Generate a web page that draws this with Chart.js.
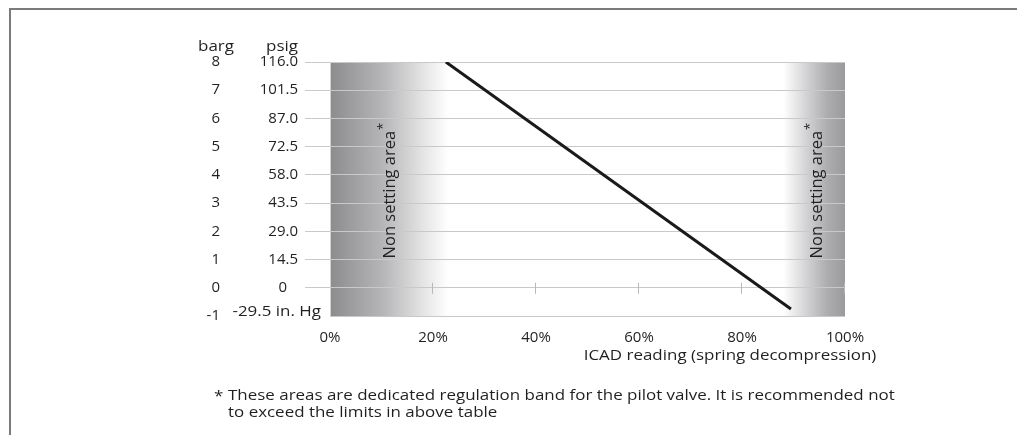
<!DOCTYPE html>
<html>
<head>
<meta charset="utf-8">
<title>ICAD pressure setting</title>
<script src="https://cdn.jsdelivr.net/npm/chart.js@4/dist/chart.umd.min.js"></script>
<style>
  html, body { margin: 0; padding: 0; background: #fff; }
  canvas { display: block; }
</style>
</head>
<body>
<canvas id="chart" width="1017" height="435"></canvas>
<script>
// data
const bargTicks = [-1, 0, 1, 2, 3, 4, 5, 6, 7, 8];
const psigTicks = ['-29.5 in. Hg', '0', '14.5', '29.0', '43.5', '58.0', '72.5', '87.0', '101.5', '116.0'];
const readingTicks = [0, 20, 40, 60, 80, 100];

// setting line (ICAD reading % -> barg)
const lineReading = [22.5, 89.5];
const lineBarg = [8, -0.75];

// non setting areas (ICAD reading %)
const leftZone = [0, 23];
const rightZone = [88, 100];

const FONT = '"Open Sans", "Noto Sans", sans-serif';
const TEXT = '#231f20';
const SX = 1.21; // the original type is set wide

const points = lineReading.map((x, i) => ({ x: x, y: lineBarg[i] }));

function wideText(ctx, text, x, y, align) {
    ctx.save();
    ctx.translate(x, y);
    ctx.scale(SX, 1);
    ctx.textAlign = align;
    ctx.fillText(text, 0, 0);
    ctx.restore();
}

// labels that sit off the normal right edge: vacuum row and the bare zero
const isSpecial = v => v === -1 || v === 0;

const bandsPlugin = {
    id: 'bands',
    beforeDraw(chart) {
        const { ctx, chartArea, scales } = chart;
        ctx.save();
        ctx.fillStyle = '#fff';
        ctx.fillRect(0, 0, chart.width, chart.height);

        const top = chartArea.top, h = chartArea.bottom - chartArea.top;

        let x0 = scales.x.getPixelForValue(leftZone[0]);
        let x1 = scales.x.getPixelForValue(leftZone[1]);
        let g = ctx.createLinearGradient(x0, 0, x1, 0);
        g.addColorStop(0, '#8c8c8e');
        g.addColorStop(0.45, '#b6b6b8');
        g.addColorStop(0.8, '#e6e6e7');
        g.addColorStop(1, '#ffffff');
        ctx.fillStyle = g;
        ctx.fillRect(x0, top, x1 - x0, h);

        x0 = scales.x.getPixelForValue(rightZone[0]);
        x1 = scales.x.getPixelForValue(rightZone[1]);
        g = ctx.createLinearGradient(x0, 0, x1, 0);
        g.addColorStop(0, '#ffffff');
        g.addColorStop(0.4, '#d0d0d2');
        g.addColorStop(0.7, '#aeaeb0');
        g.addColorStop(1, '#9a9a9c');
        ctx.fillStyle = g;
        ctx.fillRect(x0, top, x1 - x0, h);
        ctx.restore();
    },
    beforeDatasetsDraw(chart) {
        const { ctx, scales } = chart;
        ctx.save();
        // small ticks on the zero line
        const yz = scales.y.getPixelForValue(0);
        ctx.strokeStyle = '#b8b8b8';
        ctx.lineWidth = 1;
        readingTicks.slice(1).forEach(v => {
            const x = Math.round(scales.x.getPixelForValue(v)) - 0.5;
            ctx.beginPath();
            ctx.moveTo(x, yz - 5);
            ctx.lineTo(x, yz + 6);
            ctx.stroke();
        });

        // vertical zone labels
        const yMid = scales.y.getPixelForValue(3.3);
        [12.6, 95.6].forEach(v => {
            const x = scales.x.getPixelForValue(v);
            ctx.save();
            ctx.translate(x, yMid);
            ctx.rotate(-Math.PI / 2);
            ctx.fillStyle = TEXT;
            ctx.font = '16.5px ' + FONT;
            const main = 'Non setting area';
            const w = ctx.measureText(main).width;
            ctx.textBaseline = 'alphabetic';
            ctx.textAlign = 'left';
            ctx.fillText(main, -w / 2, 0);
            ctx.font = '13px ' + FONT;
            ctx.fillText('*', w / 2 + 1, -8);
            ctx.restore();
        });
        ctx.restore();
    },
    afterDraw(chart) {
        const { ctx, scales } = chart;
        ctx.save();
        // frame
        ctx.strokeStyle = '#7b7b7b';
        ctx.lineWidth = 2;
        ctx.beginPath();
        ctx.moveTo(10, chart.height);
        ctx.lineTo(10, 9);
        ctx.lineTo(chart.width, 9);
        ctx.stroke();

        ctx.fillStyle = TEXT;
        ctx.textBaseline = 'middle';
        ctx.textAlign = 'right';
        // barg column
        ctx.font = '15px ' + FONT;
        bargTicks.forEach(v => {
            ctx.fillText(String(v), 220, scales.y.getPixelForValue(v));
        });
        // psig labels that are not right aligned with the rest
        ctx.fillText(psigTicks[bargTicks.indexOf(0)], 287, scales.y.getPixelForValue(0));
        ctx.font = '14px ' + FONT;
        wideText(ctx, psigTicks[bargTicks.indexOf(-1)], 321, scales.y.getPixelForValue(-1) - 4, 'right');

        ctx.textBaseline = 'alphabetic';
        // axis headers
        wideText(ctx, 'barg', 216, 51, 'center');
        wideText(ctx, 'psig', 298, 51, 'right');
        // x axis title
        wideText(ctx, 'ICAD reading (spring decompression)', 730, 360, 'center');
        // footnote
        wideText(ctx, '*', 214, 401, 'left');
        wideText(ctx, 'These areas are dedicated regulation band for the pilot valve. It is recommended not', 228, 400, 'left');
        wideText(ctx, 'to exceed the limits in above table', 228, 417, 'left');
        ctx.restore();
    }
};

new Chart(document.getElementById('chart'), {
    type: 'scatter',
    data: {
        datasets: [{
            data: points,
            showLine: true,
            borderColor: '#1a1a1a',
            borderWidth: 3,
            pointRadius: 0
        }]
    },
    options: {
        responsive: false,
        animation: false,
        devicePixelRatio: 1,
        layout: { padding: { top: 62, right: 172, left: 0, bottom: 0 } },
        plugins: {
            legend: { display: false },
            tooltip: { enabled: false }
        },
        scales: {
            x: {
                type: 'linear',
                min: readingTicks[0],
                max: readingTicks[readingTicks.length - 1],
                afterBuildTicks: s => { s.ticks = readingTicks.map(v => ({ value: v })); },
                ticks: {
                    callback: v => v + '%',
                    padding: 5,
                    maxRotation: 0,
                    color: TEXT,
                    font: { family: FONT, size: 15 }
                },
                grid: { display: false },
                border: { display: false },
                afterFit: s => { s.height = 119; }
            },
            y: {
                position: 'left',
                min: bargTicks[0],
                max: bargTicks[bargTicks.length - 1],
                afterBuildTicks: s => { s.ticks = bargTicks.map(v => ({ value: v })); },
                ticks: {
                    callback: v => isSpecial(v) ? '' : psigTicks[bargTicks.indexOf(v)],
                    padding: 7,
                    color: TEXT,
                    font: { family: FONT, size: 15 }
                },
                grid: {
                    color: '#c9c9c9',
                    tickColor: c => (c.tick && c.tick.value === -1) ? 'rgba(0,0,0,0)' : '#c9c9c9',
                    tickLength: 25,
                    lineWidth: 1
                },
                border: { color: '#d2d2d2' },
                afterFit: s => { s.width = 330; }
            }
        }
    },
    plugins: [bandsPlugin]
});
</script>
</body>
</html>
